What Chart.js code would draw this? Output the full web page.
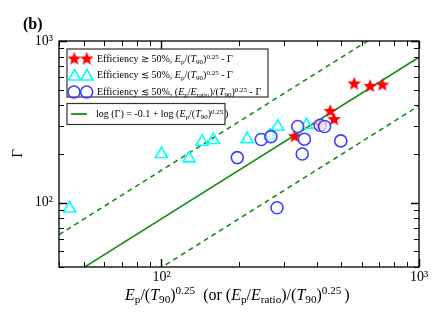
<!DOCTYPE html>
<html>
<head>
<meta charset="utf-8">
<script src="https://cdn.jsdelivr.net/npm/chart.js@4/dist/chart.umd.min.js"></script>
<style>
  body { margin: 0; background: #fff; }
  #wrap { position: relative; width: 447px; height: 333px; font-family: 'Liberation Serif', serif; color: #000; }
  #wrap canvas { position: absolute; left: 0; top: 0; }
  .txt { position: absolute; white-space: nowrap; line-height: 1; }
  .txt sub, .txt sup { font-size: 70%; line-height: 0; position: relative; vertical-align: baseline; }
  .txt sub { top: 0.3em; }
  .txt sup { top: -0.5em; }
  .lg { font-size: 10px; }
</style>
</head>
<body>
<div id="wrap">
  <canvas id="gammaChart" width="447" height="333"></canvas>
  <div class="txt" style="left:23px; top:16px; font-size:16px; font-weight:bold;">(b)</div>
  <div class="txt" id="ylab" style="left:13px; top:146px; font-size:15px; transform:rotate(-90deg);">Γ</div>
  <div class="txt" style="left:125px; top:287px; font-size:16px;"><i>E</i><sub>p</sub>/(<i>T</i><sub>90</sub>)<sup>0.25</sup>&nbsp; (or (<i>E</i><sub>p</sub>/<i>E</i><sub>ratio</sub>)/(<i>T</i><sub>90</sub>)<sup>0.25 </sup>)</div>
  <div class="txt lg" style="left:97px; top:54px;">Efficiency ≳ 50%, <i>E</i><sub>p</sub>/(<i>T</i><sub>90</sub>)<sup>0.25</sup> - Γ</div>
  <div class="txt lg" style="left:97px; top:70px;">Efficiency ≲ 50%, <i>E</i><sub>p</sub>/(<i>T</i><sub>90</sub>)<sup>0.25</sup> - Γ</div>
  <div class="txt lg" style="left:97px; top:87px;">Efficiency ≲ 50%, (<i>E</i><sub>p</sub>/<i>E</i><sub>ratio</sub>)/(<i>T</i><sub>90</sub>)<sup>0.25</sup> - Γ</div>
  <div class="txt lg" style="left:96px; top:109px;">log (Γ) = -0.1 + log (<i>E</i><sub>p</sub>/(<i>T</i><sub>90</sub>)<sup>0.25 </sup>)</div>
</div>
<script>
// données
const starX = [329, 413, 452, 468, 560, 646, 721];
const starY = [258, 304, 370, 329, 546, 528, 538];

const triX = [44, 100, 128, 144, 159, 215, 264, 283, 366];
const triY = [92, 200, 188, 238, 244, 247, 260, 295, 302];

const circX = [197, 244, 266, 338, 359, 352, 413, 430, 497, 281];
const circY = [190, 246, 256, 296, 247, 200, 301, 296, 241, 93];

// droites : log(Γ) = -0.1 + log(x), et ±0.3 dex
const fitX = [40, 1000];
const fitY = [31.8, 794];
const upperY = [63.4, 1585];
const lowerY = [15.9, 398];

const majorTicks = [100, 1000];
const minorTicks = [40, 50, 60, 70, 80, 90, 200, 300, 400, 500, 600, 700, 800, 900];

const GREEN = '#13901a';
const BLUE = '#4040ff';
const CYAN = '#00ffff';
const RED = '#ff0000';

// étoile pleine pour les marqueurs
function starPath(ctx, cx, cy, R, r) {
    ctx.beginPath();
    for (let i = 0; i < 10; i++) {
        const a = -Math.PI / 2 + i * Math.PI / 5;
        const rad = i % 2 === 0 ? R : r;
        ctx.lineTo(cx + rad * Math.cos(a), cy + rad * Math.sin(a));
    }
    ctx.closePath();
}
const starImg = document.createElement('canvas');
starImg.width = 16; starImg.height = 16;
{
    const c = starImg.getContext('2d');
    starPath(c, 8, 8.5, 7.2, 3.1);
    c.fillStyle = RED;
    c.fill();
}

function triPath(ctx, x, y, r) {
    ctx.beginPath();
    for (let i = 0; i < 3; i++) {
        const a = i * 2 * Math.PI / 3;
        ctx.lineTo(x + Math.sin(a) * r, y - Math.cos(a) * r);
    }
    ctx.closePath();
}

const toPts = (xs, ys) => xs.map((x, i) => ({ x: x, y: ys[i] }));

// cadre, graduations intérieures et légende
const framePlugin = {
    id: 'frame',
    afterDatasetsDraw(chart) {
        const ctx = chart.ctx;
        const a = chart.chartArea;
        const xs = chart.scales.x, ys = chart.scales.y;
        ctx.save();
        ctx.strokeStyle = '#000';
        ctx.lineWidth = 1.3;
        ctx.strokeRect(a.left, a.top, a.right - a.left, a.bottom - a.top);
        ctx.lineWidth = 1;
        const tick = (vals, len) => {
            vals.forEach(v => {
                const px = Math.round(xs.getPixelForValue(v)) + 0.5;
                const py = Math.round(ys.getPixelForValue(v)) + 0.5;
                ctx.beginPath();
                ctx.moveTo(px, a.bottom); ctx.lineTo(px, a.bottom - len);
                ctx.moveTo(px, a.top); ctx.lineTo(px, a.top + len);
                ctx.moveTo(a.left, py); ctx.lineTo(a.left + len, py);
                ctx.moveTo(a.right, py); ctx.lineTo(a.right - len, py);
                ctx.stroke();
            });
        };
        tick(minorTicks, 5);
        ctx.lineWidth = 1.4;
        tick(majorTicks, 8);

        // boîtes de légende
        ctx.fillStyle = '#fff';
        ctx.strokeStyle = '#333';
        ctx.lineWidth = 1.2;
        ctx.fillRect(67, 49, 201, 48);
        ctx.strokeRect(67, 49, 201, 48);
        ctx.fillRect(67, 103.5, 158, 21);
        ctx.strokeRect(67, 103.5, 158, 21);

        ctx.drawImage(starImg, 74.3 - 8, 59 - 8.5);
        ctx.drawImage(starImg, 86.7 - 8, 59 - 8.5);
        ctx.strokeStyle = CYAN;
        ctx.lineWidth = 1.6;
        [74.5, 87].forEach(x => { triPath(ctx, x, 76.5, 7); ctx.stroke(); });
        ctx.strokeStyle = BLUE;
        [74, 86.7].forEach(x => { ctx.beginPath(); ctx.arc(x, 92, 6, 0, 2 * Math.PI); ctx.stroke(); });
        ctx.strokeStyle = GREEN;
        ctx.lineWidth = 1.8;
        ctx.beginPath(); ctx.moveTo(71, 114); ctx.lineTo(87, 114); ctx.stroke();
        ctx.restore();
    }
};

const isVal = (v, t) => Math.abs(v - t) < 1e-6;
const tickFont = { family: 'Liberation Serif', size: 14 };

const ctx = document.getElementById('gammaChart').getContext('2d');
const gammaChart = new Chart(ctx, {
    type: 'scatter',
    data: {
        datasets: [
            { label: 'circles', data: toPts(circX, circY), pointStyle: 'circle', pointRadius: 6,
              borderColor: BLUE, backgroundColor: 'rgba(255,255,255,0.6)', borderWidth: 1.6, order: 0 },
            { label: 'stars', data: toPts(starX, starY), pointStyle: starImg, order: 1 },
            { label: 'triangles', data: toPts(triX, triY), pointStyle: 'triangle', pointRadius: 7,
              borderColor: CYAN, backgroundColor: 'rgba(0,0,0,0)', borderWidth: 1.6, order: 2 },
            { label: 'fit', data: toPts(fitX, fitY), showLine: true, pointRadius: 0,
              borderColor: GREEN, borderWidth: 1.6, order: 3 },
            { label: 'upper', data: toPts(fitX, upperY), showLine: true, pointRadius: 0,
              borderColor: GREEN, borderWidth: 1.6, borderDash: [5, 4], order: 3 },
            { label: 'lower', data: toPts(fitX, lowerY), showLine: true, pointRadius: 0,
              borderColor: GREEN, borderWidth: 1.6, borderDash: [5, 4], order: 3 }
        ]
    },
    options: {
        responsive: false,
        animation: false,
        layout: { padding: { top: 41, right: 28, left: 0, bottom: 0 } },
        plugins: { legend: { display: false }, tooltip: { enabled: false } },
        scales: {
            x: {
                type: 'logarithmic', min: 40, max: 1000,
                afterFit: s => { s.height = 66; },
                grid: { display: false, drawTicks: false },
                border: { display: false },
                ticks: {
                    autoSkip: false, maxRotation: 0, padding: 2, color: '#000', font: tickFont,
                    callback: v => isVal(v, 100) ? '10²' : isVal(v, 1000) ? '10³' : ''
                }
            },
            y: {
                type: 'logarithmic', min: 40, max: 1000,
                afterFit: s => { s.width = 59; },
                grid: { display: false, drawTicks: false },
                border: { display: false },
                ticks: {
                    autoSkip: false, padding: 6, color: '#000', font: tickFont,
                    callback: v => isVal(v, 100) ? '10²' : isVal(v, 1000) ? '10³' : ''
                }
            }
        }
    },
    plugins: [framePlugin]
});
</script>
</body>
</html>
